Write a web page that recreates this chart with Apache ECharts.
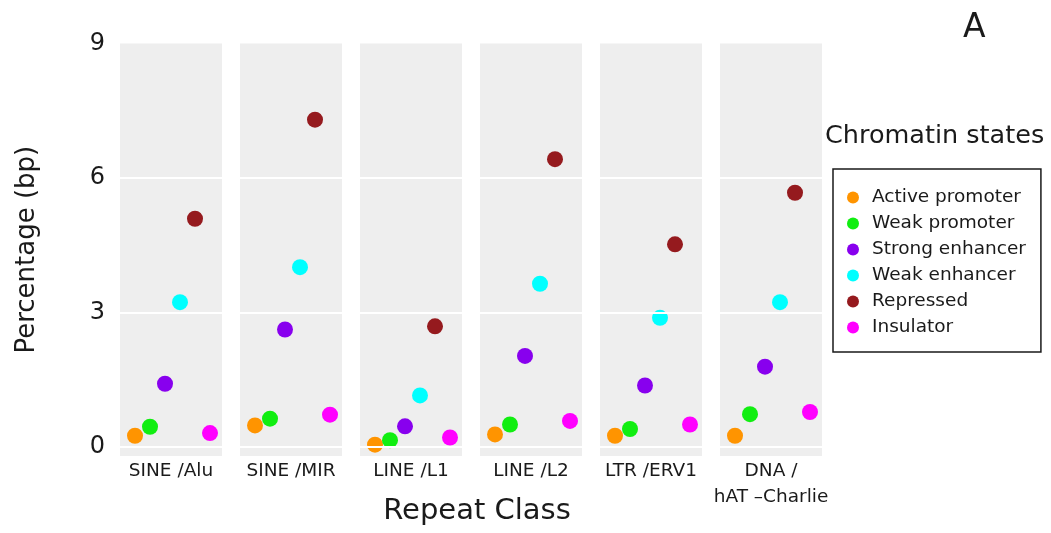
<!DOCTYPE html>
<html>
<head>
<meta charset="utf-8">
<script src="https://cdn.jsdelivr.net/npm/echarts@6/dist/echarts.min.js"></script>
<style>html,body{margin:0;padding:0;background:#fff}#c{width:1051px;height:533px}</style>
</head>
<body>
<div id="c"></div>
<script>
var repeatClasses = ['SINE /Alu', 'SINE /MIR', 'LINE /L1', 'LINE /L2', 'LTR /ERV1', 'DNA /\nhAT \u2013Charlie'];
var states = ['Active promoter', 'Weak promoter', 'Strong enhancer', 'Weak enhancer', 'Repressed', 'Insulator'];
var stateColors = ['#FF9400', '#11EE11', '#8800EE', '#00FFFF', '#951A1E', '#FF00FF'];
// values per state across repeat classes (percentage of bp)
var activePromoter = [0.25, 0.48, 0.05, 0.28, 0.25, 0.25];
var weakPromoter   = [0.45, 0.63, 0.15, 0.50, 0.40, 0.73];
var strongEnhancer = [1.41, 2.62, 0.46, 2.03, 1.37, 1.79];
var weakEnhancer   = [3.23, 4.01, 1.15, 3.64, 2.88, 3.23];
var repressed      = [5.09, 7.30, 2.69, 6.42, 4.52, 5.67];
var insulator      = [0.31, 0.72, 0.21, 0.58, 0.50, 0.78];
var yTicks = [0, 3, 6, 9];
var stateValues = [activePromoter, weakPromoter, strongEnhancer, weakEnhancer, repressed, insulator];

var FONT = 'DejaVu Sans';
var chart = echarts.init(document.getElementById('c'), null, {renderer: 'canvas'});
var grids = [], xAxes = [], yAxes = [], series = [];
repeatClasses.forEach(function (rc, g) {
  grids.push({left: 120 + g * 120, width: 102, top: 43.5, height: 412.4,
    show: true, backgroundColor: '#EEEEEE', borderWidth: 0});
  xAxes.push({type: 'value', gridIndex: g, min: 0, max: 6.8,
    axisLine: {show: false}, axisTick: {show: false}, axisLabel: {show: false}, splitLine: {show: false},
    name: rc, nameLocation: 'middle', nameGap: 2,
    nameTextStyle: {fontFamily: FONT, fontSize: 18.5, color: '#1a1a1a', verticalAlign: 'top', lineHeight: 26}});
  yAxes.push({type: 'value', gridIndex: g, min: -0.2, max: 9,
    axisLine: {show: false}, axisTick: {show: false}, splitLine: {show: false},
    axisLabel: {show: g === 0, customValues: yTicks, fontFamily: FONT, fontSize: 24, color: '#1a1a1a', margin: 15},
    name: g === 0 ? 'Percentage (bp)' : '', nameLocation: 'middle', nameRotate: 90, nameGap: 80,
    nameTextStyle: {fontFamily: FONT, fontSize: 26, color: '#1a1a1a'}});
  series.push({type: 'line', name: 'grid' + g, xAxisIndex: g, yAxisIndex: g, data: [], z: 1,
    markLine: {silent: true, symbol: 'none', label: {show: false},
      lineStyle: {color: '#ffffff', width: 2, type: 'solid'},
      data: yTicks.slice(0, 3).map(function (v) { return {yAxis: v}; })}});
  states.forEach(function (s, i) {
    series.push({type: 'scatter', name: s, xAxisIndex: g, yAxisIndex: g, z: 3,
      symbolSize: 16, itemStyle: {color: stateColors[i], opacity: 1},
      data: [[i + 1, stateValues[i][g]]]});
  });
});

chart.setOption({
  animation: false,
  backgroundColor: '#ffffff',
  grid: grids, xAxis: xAxes, yAxis: yAxes, series: series,
  title: [
    {text: 'Repeat Class', left: 477, top: 497, textAlign: 'center', padding: 0,
     textStyle: {fontFamily: FONT, fontSize: 29, fontWeight: 'normal', color: '#1a1a1a'}},
    {text: 'A', left: 963, top: 12, padding: 0,
     textStyle: {fontFamily: FONT, fontSize: 33, fontWeight: 'normal', color: '#1a1a1a'}},
    {text: 'Chromatin states', left: 825, top: 123, padding: 0,
     textStyle: {fontFamily: FONT, fontSize: 25.5, fontWeight: 'normal', color: '#1a1a1a'}}
  ],
  legend: {
    data: states, orient: 'vertical', left: 833, top: 169,
    icon: 'circle', itemWidth: 12, itemHeight: 12, itemGap: 7,
    padding: [19, 15, 15, 14],
    borderColor: '#1a1a1a', borderWidth: 1.5,
    textStyle: {fontFamily: FONT, fontSize: 18.5, lineHeight: 18, color: '#1a1a1a', padding: [0, 0, 0, 8]}
  }
});
</script>
</body>
</html>
